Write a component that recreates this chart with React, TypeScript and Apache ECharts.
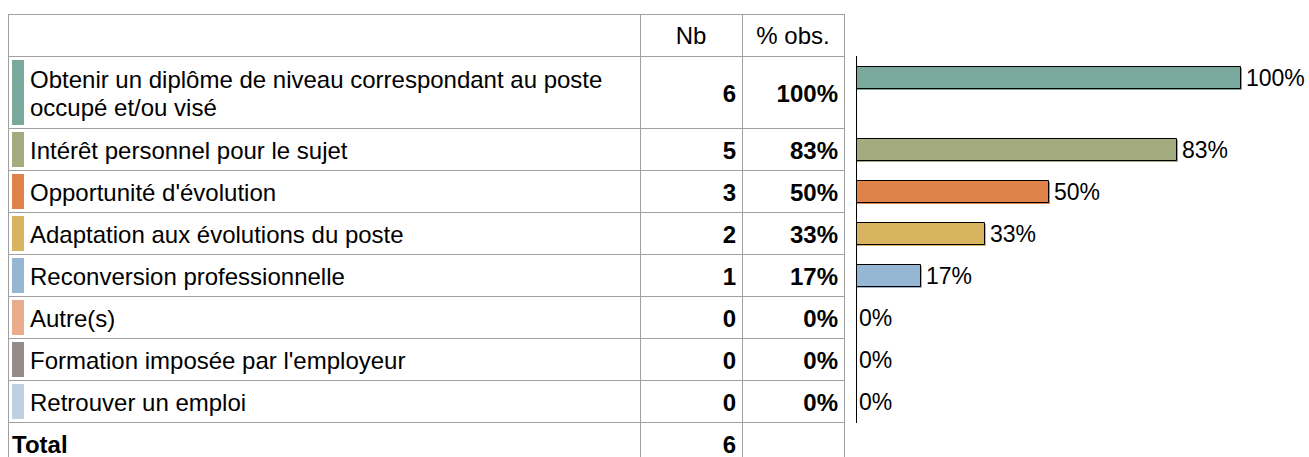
import React, { useEffect, useRef } from "react";
import * as echarts from "echarts";

// ---------- data ----------
const categories: string[] = [
  "Obtenir un diplôme de niveau correspondant au poste\noccupé et/ou visé",
  "Intérêt personnel pour le sujet",
  "Opportunité d'évolution",
  "Adaptation aux évolutions du poste",
  "Reconversion professionnelle",
  "Autre(s)",
  "Formation imposée par l'employeur",
  "Retrouver un emploi",
];
const counts: number[] = [6, 5, 3, 2, 1, 0, 0, 0];
const totalCount = 6;
const colors: string[] = [
  "#7ba89c",
  "#a4ac7f",
  "#df834a",
  "#d9b460",
  "#95b7d3",
  "#eaac8b",
  "#948b88",
  "#bdd1e3",
];
const headerLabels: string[] = ["Nb", "% obs."];
const totalLabel = "Total";

// ---------- layout ----------
const W = 1309;
const H = 457;
const FONT = "'Liberation Sans', Arial, sans-serif";
const FS = 24;
const LABEL_FS = 23;
const COLX = [8, 640, 742, 844];
const TOP = 14;
const HEADER_H = 42;
const ROW_H = [72, 42, 42, 42, 42, 42, 42, 42];
const SLOT_H = 42;
const BAR_LEFT = 856;
const BAR_W = 384;
const BAR_H = 22;
const BORDER = "#a0a0a0";

export default function App() {
  const ref = useRef<HTMLDivElement>(null);

  useEffect(() => {
    document.body.style.margin = "0";
    if (!ref.current) return;
    const chart = echarts.init(ref.current, null, { renderer: "svg" });

    const pcts = counts.map((c) => (c / totalCount) * 100);

    const rowTops: number[] = [];
    let y = TOP + HEADER_H;
    for (let i = 0; i < ROW_H.length; i++) {
      rowTops.push(y);
      y += ROW_H[i];
    }
    const totalTop = y;

    const graphic: any[] = [];
    const hline = (yy: number) =>
      graphic.push({
        type: "line",
        shape: { x1: COLX[0], y1: yy + 0.5, x2: COLX[3] + 1, y2: yy + 0.5 },
        style: { stroke: BORDER, lineWidth: 1 },
        silent: true,
      });
    hline(TOP);
    hline(TOP + HEADER_H);
    rowTops.forEach((t, i) => hline(t + ROW_H[i]));
    COLX.forEach((x) =>
      graphic.push({
        type: "line",
        shape: { x1: x + 0.5, y1: TOP, x2: x + 0.5, y2: H },
        style: { stroke: BORDER, lineWidth: 1 },
        silent: true,
      })
    );

    const txt = (x: number, yy: number, text: string, align: string, bold: boolean) =>
      graphic.push({
        type: "text",
        x,
        y: yy,
        style: {
          text,
          fontFamily: FONT,
          fontSize: FS,
          fontWeight: bold ? "bold" : "normal",
          lineHeight: 28,
          fill: "#000",
          align,
          verticalAlign: "middle",
        },
        silent: true,
      });

    headerLabels.forEach((h, i) =>
      txt((COLX[i + 1] + COLX[i + 2]) / 2, TOP + HEADER_H / 2, h, "center", false)
    );

    categories.forEach((c, i) => {
      const t = rowTops[i];
      const h = ROW_H[i];
      graphic.push({
        type: "rect",
        shape: { x: 12, y: t + 4, width: 12, height: h - 7 },
        style: { fill: colors[i] },
        silent: true,
      });
      txt(30, t + h / 2 + 1, c, "left", false);
      txt(COLX[2] - 6, t + h / 2 + 1, String(counts[i]), "right", true);
      txt(COLX[3] - 6, t + h / 2 + 1, Math.round(pcts[i]) + "%", "right", true);
    });

    txt(12, totalTop + 22, totalLabel, "left", true);
    txt(COLX[2] - 6, totalTop + 22, String(totalCount), "right", true);

    graphic.push({
      type: "line",
      shape: { x1: BAR_LEFT + 0.5, y1: TOP + HEADER_H, x2: BAR_LEFT + 0.5, y2: totalTop + 1 },
      style: { stroke: "#000", lineWidth: 1 },
      silent: true,
      z: 100,
    });

    const grids: any[] = [];
    const xAxes: any[] = [];
    const yAxes: any[] = [];
    const series: any[] = [];
    categories.forEach((c, i) => {
      grids.push({ left: BAR_LEFT, top: rowTops[i], width: BAR_W, height: SLOT_H });
      xAxes.push({ type: "value", gridIndex: i, min: 0, max: 100, show: false });
      yAxes.push({ type: "category", gridIndex: i, data: [c], show: false });
      series.push({
        type: "custom",
        xAxisIndex: i,
        yAxisIndex: i,
        encode: { x: 0, y: 1 },
        data: [[pcts[i], 0]],
        renderItem: (params: any, api: any) => {
          const v = api.value(0);
          const p0 = api.coord([0, 0]);
          const p1 = api.coord([v, 0]);
          const x0 = Math.round(p0[0]);
          const x1 = Math.round(p1[0]);
          const top = Math.round(p0[1] - BAR_H / 2);
          const w = x1 - x0;
          const children: any[] = [];
          if (w > 0) {
            children.push({
              type: "rect",
              shape: { x: x0 + 1, y: top + 2, width: w + 1, height: BAR_H },
              style: { fill: colors[i] },
            });
            children.push({
              type: "rect",
              shape: { x: x0 + 0.5, y: top + 0.5, width: w, height: BAR_H },
              style: { fill: colors[i], stroke: "#000", lineWidth: 1 },
            });
          }
          children.push({
            type: "text",
            x: w > 0 ? x1 + 6 : x0 + 3,
            y: p0[1] + 1,
            style: {
              text: Math.round(v) + "%",
              fontFamily: FONT,
              fontSize: LABEL_FS,
              fill: "#000",
              align: "left",
              verticalAlign: "middle",
            },
          });
          return { type: "group", children };
        },
      });
    });

    chart.setOption({
      animation: false,
      backgroundColor: "#fff",
      grid: grids,
      xAxis: xAxes,
      yAxis: yAxes,
      series,
      graphic,
    });
    return () => chart.dispose();
  }, []);

  return <div ref={ref} style={{ width: W, height: H }} />;
}
